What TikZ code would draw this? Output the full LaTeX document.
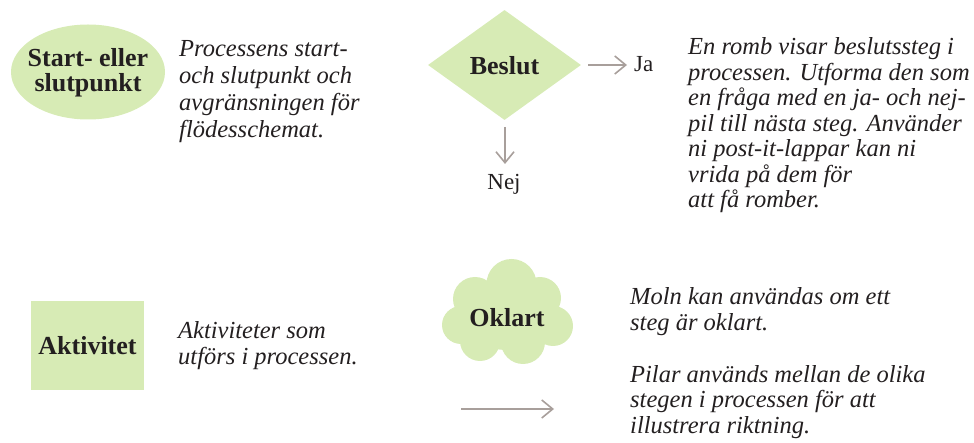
\documentclass[tikz,border=0pt]{standalone}
\usepackage{fontspec}
\setmainfont{Liberation Serif}
\usetikzlibrary{shapes.geometric,arrows.meta}
\definecolor{leaf}{HTML}{D7EBB5}
\definecolor{arrowgrey}{HTML}{A89F9B}
\definecolor{ink}{HTML}{231F20}
\newcommand{\txtblock}[2]{\vtop{\hsize=400pt\raggedright\noindent\baselineskip=#1pt #2}}
\tikzset{
  shapefill/.style={fill=leaf, draw=none, inner sep=0pt},
  boldlabel/.style={font=\fontsize{26}{25}\selectfont\bfseries, text=ink, align=center},
  desc/.style={anchor=base west, inner sep=0pt, font=\fontsize{24.5}{26}\selectfont\itshape, text=ink},
  plainlabel/.style={font=\fontsize{23}{26}\selectfont, text=ink, inner sep=0pt},
  arr/.style={draw=arrowgrey, line width=1.6pt, -{Straight Barb[length=11pt,width=18pt,line width=1.6pt]}},
}
\begin{document}
\begin{tikzpicture}[x=1pt,y=-1pt]
\useasboundingbox (0,0) rectangle (974,443);

% Start/slut ellipse
\node[ellipse, shapefill, minimum width=154pt, minimum height=95pt] (start) at (88,72) {};
\node[boldlabel] (startlbl) at (88,73) {Start- eller\\slutpunkt};
\node[desc] (startdesc) at (179,57) {\txtblock{26.7}{Processens start-\\och slutpunkt och\\avgränsningen för\\flödesschemat.}};

% Activity rectangle
\node[rectangle, shapefill, minimum width=113pt, minimum height=89pt] (act) at (87.5,345.5) {};
\node[boldlabel] (actlbl) at (87.5,346) {Aktivitet};
\node[desc] (actdesc) at (178,338) {\txtblock{26}{Aktiviteter som\\utförs i processen.}};

% Decision diamond
\node[diamond, shapefill, minimum width=153pt, minimum height=110pt, aspect=1.39] (dec) at (504.5,65) {};
\node[boldlabel] (declbl) at (504.5,66) {Beslut};
\node[plainlabel, anchor=base west] (ja) at (634,72) {Ja};
\node[plainlabel, anchor=base] (nej) at (504,190) {Nej};
\coordinate (jastart) at (588,65);
\coordinate (nejstart) at (505,127);
\draw[arr] (jastart) -- ([xshift=-7pt]ja.west |- jastart);
\draw[arr] (nejstart) -- (nejstart |- 0,164);
\node[desc] (decdesc) at (688,55) {\txtblock{25.5}{En romb visar beslutssteg i\\processen. Utforma den som\\en fråga med en ja- och nej-\\pil till nästa steg. Använder\\ni post-it-lappar kan ni\\vrida på dem för\\att få romber.}};

% Cloud
\begin{scope}
\fill[leaf] (511.5,284) circle (25);
\fill[leaf] (475,299) circle (22);
\fill[leaf] (540,298) circle (21);
\fill[leaf] (461,325) circle (19);
\fill[leaf] (553,326) circle (20);
\fill[leaf] (480,341) circle (20);
\fill[leaf] (523,342) circle (22);
\fill[leaf] (508,316) ellipse (52 and 34);
\end{scope}
\node[boldlabel] (cloudlbl) at (507,318) {Oklart};
\node[desc] (clouddesc) at (630,305) {\txtblock{25.5}{Moln kan användas om ett\\steg är oklart.}};

% Arrow legend
\coordinate (arrA) at (461,409);
\coordinate (arrB) at (554,409);
\draw[arr] (arrA) -- (arrB);
\node[desc] (arrdesc) at (630,382) {\txtblock{25.5}{Pilar används mellan de olika\\stegen i processen för att\\illustrera riktning.}};
\end{tikzpicture}
\end{document}
